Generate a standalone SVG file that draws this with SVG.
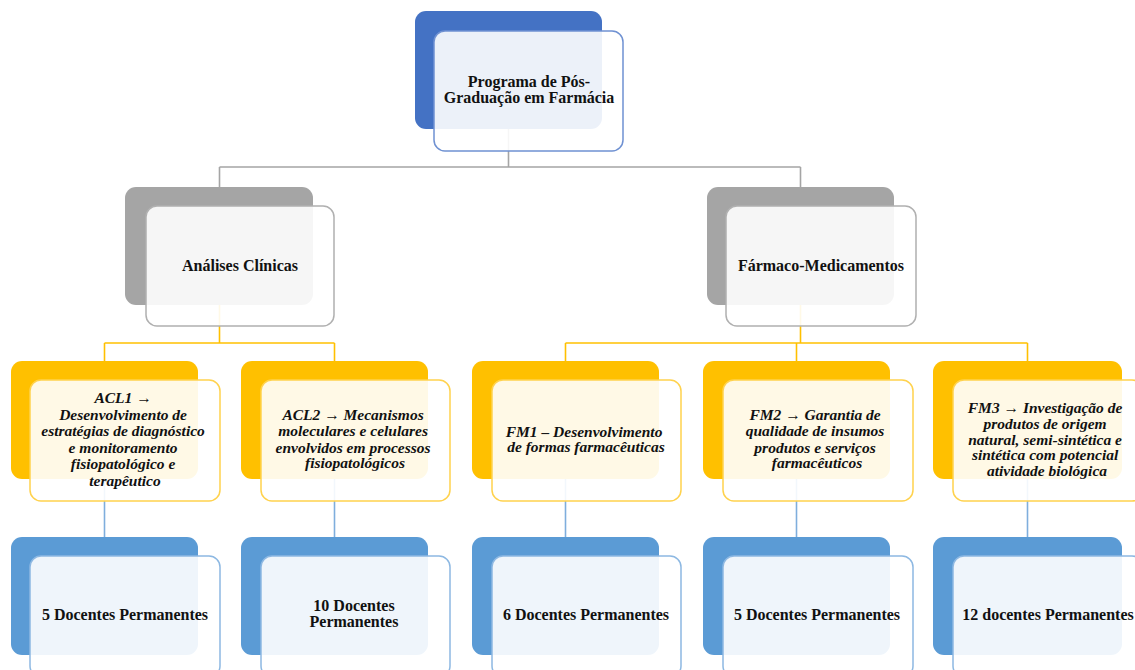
<svg xmlns="http://www.w3.org/2000/svg" width="1135" height="670" viewBox="0 0 1135 670">
<style>
.bg{fill:#fff}
.back{stroke:none}
.front{fill:#fff;fill-opacity:0.9;stroke-width:1.5}
.b-top .back{fill:#4472C4}.b-top .front{stroke:#6F91D2}
.b-gray .back{fill:#A5A5A5}.b-gray .front{stroke:#B0B0B0}
.b-yel .back{fill:#FFC000}.b-yel .front{stroke:#FFD24D}
.b-blue .back{fill:#5B9BD5}.b-blue .front{stroke:#8DB8E2}
.t{font-family:"Liberation Serif","Times New Roman",serif;font-weight:bold;fill:#111;text-anchor:middle}
.tn{font-size:16px}
.ti{font-size:15.5px;font-style:italic}
.conn line{stroke-width:1.6;fill:none}
.cg{stroke:#A5A5A5}.cy{stroke:#FFC000}.cb{stroke:#7FAEDD}
</style>
<rect class="bg" width="1135" height="670"/>
<g id="connectors" class="conn">
<g class="cg">
<line x1="508.5" y1="129" x2="508.5" y2="167"/>
<line x1="219.5" y1="167" x2="800.5" y2="167"/>
<line x1="219.5" y1="167" x2="219.5" y2="187"/>
<line x1="800.5" y1="167" x2="800.5" y2="187"/>
</g>
<g class="cy">
<line x1="219.5" y1="305" x2="219.5" y2="343"/>
<line x1="104.5" y1="343" x2="334.5" y2="343"/>
<line x1="104.5" y1="343" x2="104.5" y2="361"/>
<line x1="334.5" y1="343" x2="334.5" y2="361"/>
<line x1="800.5" y1="305" x2="800.5" y2="343"/>
<line x1="565.5" y1="343" x2="1027.5" y2="343"/>
<line x1="565.5" y1="343" x2="565.5" y2="361"/>
<line x1="796.5" y1="343" x2="796.5" y2="361"/>
<line x1="1027.5" y1="343" x2="1027.5" y2="361"/>
</g>
<g class="cb">
<line x1="104.5" y1="479" x2="104.5" y2="537"/>
<line x1="334.5" y1="479" x2="334.5" y2="537"/>
<line x1="565.5" y1="479" x2="565.5" y2="537"/>
<line x1="796.5" y1="479" x2="796.5" y2="537"/>
<line x1="1027.5" y1="479" x2="1027.5" y2="537"/>
</g>
</g>

<g id="node-programa" class="b-top">
<rect class="back" x="415" y="11" width="187" height="118" rx="11"/>
<rect class="front" x="434" y="31" width="189" height="120" rx="11"/>
<text class="t tn" x="529" y="87">Programa de Pós-</text>
<text class="t tn" x="529" y="103">Graduação em Farmácia</text>
</g>

<g id="node-analises" class="b-gray">
<rect class="back" x="125" y="187" width="188" height="118" rx="11"/>
<rect class="front" x="146" y="206" width="188" height="120" rx="11"/>
<text class="t tn" x="240" y="271">Análises Clínicas</text>
</g>

<g id="node-farmaco" class="b-gray">
<rect class="back" x="707" y="187" width="187" height="118" rx="11"/>
<rect class="front" x="726" y="206" width="190" height="120" rx="11"/>
<text class="t tn" x="821" y="271">Fármaco-Medicamentos</text>
</g>

<g id="node-acl1" class="b-yel">
<rect class="back" x="11" y="361" width="187" height="118" rx="11"/>
<rect class="front" x="30" y="380" width="190" height="121" rx="11"/>
<text class="t ti" x="125">
<tspan x="125" y="403">ACL1 →</tspan>
<tspan x="125" y="419.5">Desenvolvimento de</tspan>
<tspan x="125" y="436">estratégias  de diagnóstico</tspan>
<tspan x="125" y="452.5">e monitoramento</tspan>
<tspan x="125" y="469">fisiopatológico e</tspan>
<tspan x="125" y="485.5">terapêutico</tspan>
</text>
</g>

<g id="node-acl2" class="b-yel">
<rect class="back" x="241" y="361" width="187" height="118" rx="11"/>
<rect class="front" x="261" y="380" width="189" height="121" rx="11"/>
<text class="t ti" x="355">
<tspan x="355" y="420">ACL2 → Mecanismos</tspan>
<tspan x="355" y="436">moleculares e celulares</tspan>
<tspan x="355" y="452.5">envolvidos em processos</tspan>
<tspan x="355" y="468">fisiopatológicos</tspan>
</text>
</g>

<g id="node-fm1" class="b-yel">
<rect class="back" x="472" y="361" width="187" height="118" rx="11"/>
<rect class="front" x="492" y="380" width="189" height="121" rx="11"/>
<text class="t ti" x="586">
<tspan x="586" y="437">FM1 – Desenvolvimento</tspan>
<tspan x="586" y="452">de formas  farmacêuticas</tspan>
</text>
</g>

<g id="node-fm2" class="b-yel">
<rect class="back" x="703" y="361" width="187" height="118" rx="11"/>
<rect class="front" x="723" y="380" width="190" height="121" rx="11"/>
<text class="t ti" x="817">
<tspan x="817" y="420">FM2 → Garantia de</tspan>
<tspan x="817" y="436">qualidade de insumos</tspan>
<tspan x="817" y="452.5">produtos e serviços</tspan>
<tspan x="817" y="468">farmacêuticos</tspan>
</text>
</g>

<g id="node-fm3" class="b-yel">
<rect class="back" x="933" y="361" width="189" height="118" rx="11"/>
<rect class="front" x="953" y="380" width="190" height="121" rx="11"/>
<text class="t ti" x="1047">
<tspan x="1047" y="413">FM3 → Investigação de</tspan>
<tspan x="1047" y="429">produtos de origem</tspan>
<tspan x="1047" y="444.5">natural, semi-sintética e</tspan>
<tspan x="1047" y="460">sintética com potencial</tspan>
<tspan x="1047" y="476">atividade biológica</tspan>
</text>
</g>

<g id="node-doc-acl1" class="b-blue">
<rect class="back" x="11" y="537" width="187" height="118" rx="11"/>
<rect class="front" x="30" y="556" width="190" height="121" rx="11"/>
<text class="t tn" x="125" y="620">5 Docentes Permanentes</text>
</g>

<g id="node-doc-acl2" class="b-blue">
<rect class="back" x="241" y="537" width="187" height="118" rx="11"/>
<rect class="front" x="261" y="556" width="189" height="121" rx="11"/>
<text class="t tn" x="354" y="611">10 Docentes</text>
<text class="t tn" x="354" y="627">Permanentes</text>
</g>

<g id="node-doc-fm1" class="b-blue">
<rect class="back" x="472" y="537" width="187" height="118" rx="11"/>
<rect class="front" x="492" y="556" width="189" height="121" rx="11"/>
<text class="t tn" x="586" y="620">6 Docentes Permanentes</text>
</g>

<g id="node-doc-fm2" class="b-blue">
<rect class="back" x="703" y="537" width="187" height="118" rx="11"/>
<rect class="front" x="723" y="556" width="190" height="121" rx="11"/>
<text class="t tn" x="817" y="620">5 Docentes Permanentes</text>
</g>

<g id="node-doc-fm3" class="b-blue">
<rect class="back" x="933" y="537" width="189" height="118" rx="11"/>
<rect class="front" x="953" y="556" width="190" height="121" rx="11"/>
<text class="t tn" x="1048" y="620">12 docentes Permanentes</text>
</g>
</svg>
